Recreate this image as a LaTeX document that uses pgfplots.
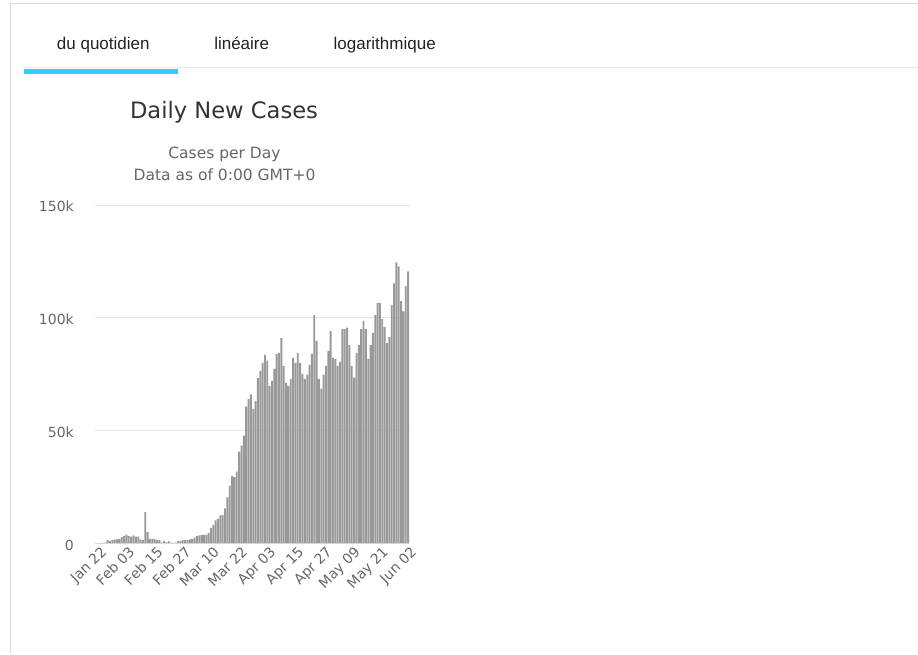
\documentclass[border=0pt]{standalone}
\usepackage{fontspec}
\setmainfont{DejaVu Sans}
\newfontfamily\tabfont{Liberation Sans}
\usepackage{pgfplots}
\usepackage{pgfplotstable}
\pgfplotsset{compat=1.18}

\definecolor{bargray}{HTML}{999999}
\definecolor{gridgray}{HTML}{E6E6E6}
\definecolor{basecol}{HTML}{CCD6EB}
\definecolor{labelgray}{HTML}{666666}
\definecolor{titlegray}{HTML}{333333}
\definecolor{tabblue}{HTML}{33CCFF}
\definecolor{bordergray}{HTML}{D9D9D9}
\definecolor{tabtext}{HTML}{222222}

\newcommand\ticksize{\fontsize{14}{16}\selectfont}
\newcommand\tabsize{\tabfont\fontsize{17}{20}\selectfont}
\newcommand\titlesize{\fontsize{22.6}{26}\selectfont}
\newcommand\subsize{\fontsize{15.5}{18}\selectfont}

% daily new cases, day 0 = Jan 22
\pgfplotstableread{
day cases
0 0
1 100
2 250
3 400
4 1500
5 1100
6 1500
7 1800
8 1800
9 2100
10 2800
11 3400
12 3900
13 3300
14 3100
15 3600
16 3000
17 3000
18 1800
19 1500
20 13900
21 5000
22 2000
23 2000
24 2000
25 1500
26 1500
27 400
28 1100
29 500
30 1100
31 400
32 300
33 400
34 1100
35 1100
36 1500
37 1500
38 1500
39 1800
40 2100
41 2600
42 3300
43 3600
44 3800
45 3800
46 3800
47 4600
48 6900
49 8100
50 10300
51 10900
52 12500
53 12600
54 15600
55 20400
56 25700
57 30000
58 29400
59 31900
60 40700
61 43400
62 47800
63 60600
64 64000
65 66100
66 59700
67 63100
68 73300
69 76500
70 80000
71 83600
72 81000
73 69900
74 72100
75 77400
76 84000
77 84500
78 91000
79 78700
80 71200
81 69900
82 73000
83 82300
84 80000
85 84500
86 80000
87 75200
88 73000
89 74800
90 79200
91 84000
92 101200
93 89800
94 73000
95 68600
96 74800
97 78700
98 85400
99 94200
100 82300
101 81700
102 78700
103 80600
104 95000
105 95000
106 95700
107 87900
108 78700
109 73500
110 84400
111 87900
112 95000
113 98500
114 95000
115 81800
116 87900
117 93200
118 101200
119 106500
120 106500
121 99400
122 95900
123 88800
124 91500
125 105600
126 115300
127 124600
128 122800
129 107400
130 102900
131 114000
132 120600
}\daily

\begin{document}
\begin{tikzpicture}
\path[use as bounding box] (0pt,0pt) rectangle (918pt,654pt);

% page frame
\draw[bordergray, line width=1pt] (10.7pt,0pt) -- (10.7pt,650pt) -- (918pt,650pt);

% tabs
\draw[gridgray, line width=1.2pt] (24pt,586.3pt) -- (918pt,586.3pt);
\fill[tabblue] (24pt,580.3pt) rectangle (178pt,585pt);
\begin{scope}[every node/.style={font=\tabsize, text=tabtext, anchor=base}]
  \node at (103.3pt,604.5pt) {du quotidien};
  \node at (241.7pt,604.5pt) {linéaire};
  \node at (384.7pt,604.5pt) {logarithmique};
\end{scope}

% titles
\node[anchor=base, font=\titlesize, text=titlegray] at (224pt,535pt) {Daily New Cases};
\node[anchor=base, font=\subsize, text=labelgray] at (224.5pt,495pt) {Cases per Day};
\node[anchor=base, font=\subsize, text=labelgray] at (224.5pt,473pt) {Data as of 0:00 GMT+0};

\begin{axis}[
    at={(95pt,110.5pt)}, anchor=south west,
    scale only axis,
    width=315pt, height=338.5pt,
    xmin=-1.4, xmax=132.8,
    ymin=0, ymax=150000,
    scaled y ticks=false,
    axis line style={draw=none},
    major tick length=0pt,
    ymajorgrids,
    grid style={gridgray, line width=1pt},
    ytick={0,50000,100000,150000},
    yticklabels={0,50k,100k,150k},
    xtick={0,12,...,132},
    xticklabels={Jan 22,Feb 03,Feb 15,Feb 27,Mar 10,Mar 22,Apr 03,Apr 15,Apr 27,May 09,May 21,Jun 02},
    yticklabel style={font=\ticksize, text=labelgray,
        anchor=east, inner sep=0pt, xshift=-21pt, yshift=-1.5pt},
    xticklabel style={font=\ticksize, text=labelgray,
        rotate=45, anchor=base east, inner sep=0pt, yshift=-13pt},
  ]
  \addplot[ybar, fill=bargray, draw=none, bar width=0.8] table[x=day, y=cases] {\daily};
  \draw[basecol, line width=1pt] (rel axis cs:0,0) -- (rel axis cs:1,0);
\end{axis}
\end{tikzpicture}
\end{document}
